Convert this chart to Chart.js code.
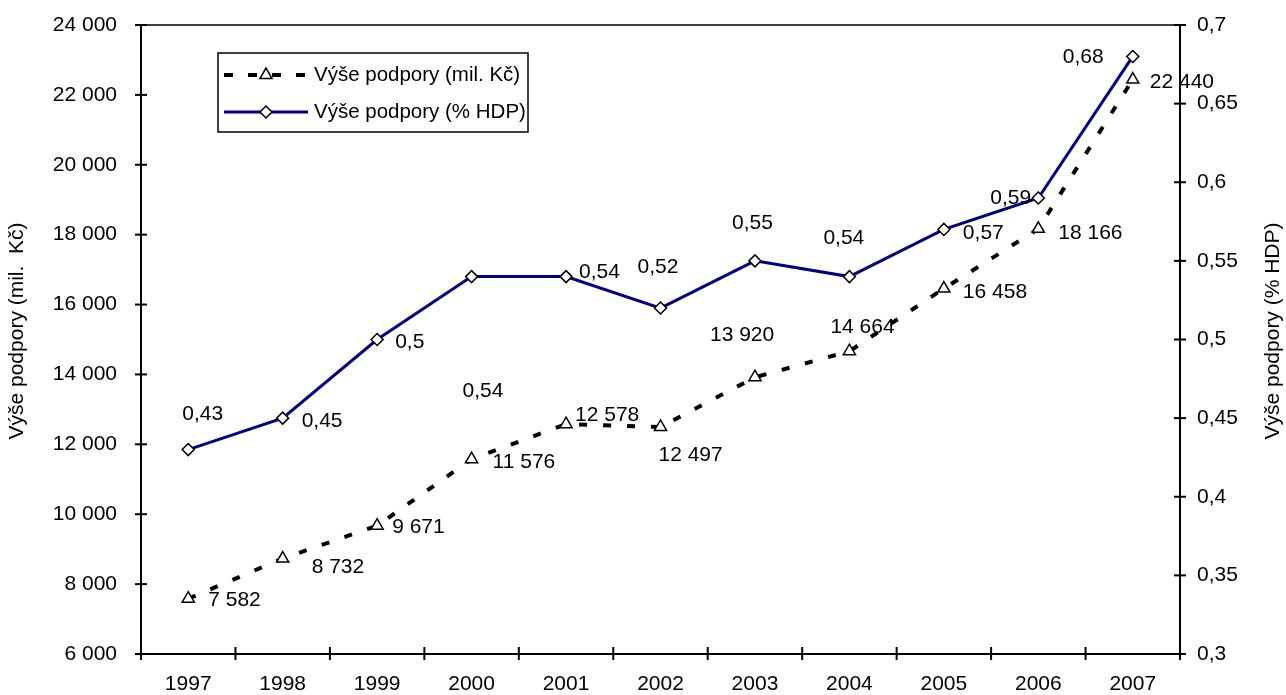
<!DOCTYPE html>
<html>
<head>
<meta charset="utf-8">
<title>Výše podpory</title>
<script src="https://cdn.jsdelivr.net/npm/chart.js@4.4.0/dist/chart.umd.min.js"></script>
<style>
  html, body { margin: 0; padding: 0; background: #fff; }
  canvas { display: block; }
</style>
</head>
<body>
<canvas id="podporaChart" width="1286" height="695"></canvas>
<script>
// data
const years = ['1997', '1998', '1999', '2000', '2001', '2002', '2003', '2004', '2005', '2006', '2007'];
const podporaKc = [7582, 8732, 9671, 11576, 12578, 12497, 13920, 14664, 16458, 18166, 22440];
const podporaHdp = [0.43, 0.45, 0.5, 0.54, 0.54, 0.52, 0.55, 0.54, 0.57, 0.59, 0.68];

const kcMin = 6000, kcMax = 24000, kcStep = 2000;
const hdpMin = 0.3, hdpMax = 0.7, hdpStep = 0.05;

const kcName = 'Výše podpory (mil. Kč)';
const hdpName = 'Výše podpory (% HDP)';
const leftTitle = 'Výše podpory (mil.  Kč)';
const rightTitle = 'Výše podpory (% HDP)';

// label placement relative to the point (text starts at dx, centred at dy)
const kcLabelOffsets = [[20, 1], [29, 9], [15, 1], [21, 3], [9, -9], [-2, 28], [-45, -42], [-19, -24], [19, 4], [20, 4], [17, 3]];
const hdpLabelOffsets = [[-6, -35], [19, 3], [18, 3], [-9, 115], [13, -4], [-23, -41], [-23, -38], [-26, -38], [19, 4], [-48, 0], [-70, 1]];

const FONT_FAMILY = '"Liberation Sans", Arial, Helvetica, sans-serif';
const FONT = '21px ' + FONT_FAMILY;
const LEGEND_FONT = '20.5px ' + FONT_FAMILY;
const NAVY = '#000080';

function fmtKc(v) {
    return String(Math.round(v)).replace(/\B(?=(\d{3})+(?!\d))/g, ' ');
}
function fmtHdp(v) {
    return String(Math.round(v * 100) / 100).replace('.', ',');
}

function line(ctx, x1, y1, x2, y2) {
    ctx.beginPath();
    ctx.moveTo(x1, y1);
    ctx.lineTo(x2, y2);
    ctx.stroke();
}

// keep the plot box where it is in the original, no overflow padding
function noPad(s) {
    s.paddingTop = 0;
    s.paddingBottom = 0;
    s.paddingLeft = 0;
    s.paddingRight = 0;
}

const decorPlugin = {
    id: 'decor',
    afterDatasetsDraw(chart) {
        const ctx = chart.ctx;
        ctx.save();
        ctx.font = FONT;
        ctx.fillStyle = '#000';
        ctx.textAlign = 'left';
        ctx.textBaseline = 'middle';
        const metaKc = chart.getDatasetMeta(0);
        const metaHdp = chart.getDatasetMeta(1);
        metaKc.data.forEach((pt, i) => {
            const o = kcLabelOffsets[i];
            ctx.fillText(fmtKc(podporaKc[i]), pt.x + o[0], pt.y + o[1]);
        });
        metaHdp.data.forEach((pt, i) => {
            const o = hdpLabelOffsets[i];
            ctx.fillText(fmtHdp(podporaHdp[i]), pt.x + o[0], pt.y + o[1]);
        });
        ctx.restore();
    },
    afterDraw(chart) {
        const ctx = chart.ctx;
        const area = chart.chartArea;
        const yL = chart.scales.y;
        const yR = chart.scales.y1;
        ctx.save();
        ctx.strokeStyle = '#000';

        // top border
        ctx.lineWidth = 1.5;
        line(ctx, area.left, area.top, area.right, area.top);

        // tick marks crossing the axes
        ctx.lineWidth = 2;
        yL.ticks.forEach((t, i) => {
            const py = yL.getPixelForTick(i);
            line(ctx, area.left - 6, py, area.left + 6, py);
        });
        yR.ticks.forEach((t, i) => {
            const py = yR.getPixelForTick(i);
            line(ctx, area.right - 6, py, area.right + 6, py);
        });
        const n = years.length;
        const w = (area.right - area.left) / n;
        for (let i = 0; i <= n; i++) {
            const px = area.left + i * w;
            line(ctx, px, area.bottom - 7, px, area.bottom + 6);
        }

        // axis titles
        ctx.font = FONT;
        ctx.fillStyle = '#000';
        ctx.textAlign = 'center';
        ctx.textBaseline = 'middle';
        ctx.save();
        ctx.translate(17, 331);
        ctx.rotate(-Math.PI / 2);
        ctx.fillText(leftTitle, 0, 0);
        ctx.restore();
        ctx.save();
        ctx.translate(1273, 331);
        ctx.rotate(-Math.PI / 2);
        ctx.fillText(rightTitle, 0, 0);
        ctx.restore();

        // legend
        ctx.lineWidth = 1.5;
        ctx.strokeRect(218, 53, 310, 79);

        ctx.lineWidth = 4;
        ctx.setLineDash([9, 15]);
        line(ctx, 224, 75, 308, 75);
        ctx.setLineDash([]);
        ctx.fillStyle = '#fff';
        ctx.lineWidth = 1.5;
        Chart.helpers.drawPoint(ctx, { pointStyle: 'triangle', radius: 7, borderWidth: 1.5 }, 266, 75);

        ctx.strokeStyle = NAVY;
        ctx.lineWidth = 3;
        line(ctx, 224, 112, 308, 112);
        ctx.strokeStyle = '#000';
        ctx.fillStyle = '#fff';
        ctx.lineWidth = 1.5;
        Chart.helpers.drawPoint(ctx, { pointStyle: 'rectRot', radius: 6, borderWidth: 1.5 }, 266, 112);

        ctx.font = LEGEND_FONT;
        ctx.fillStyle = '#000';
        ctx.textAlign = 'left';
        ctx.fillText(kcName, 314, 75);
        ctx.fillText(hdpName, 314, 112);

        ctx.restore();
    }
};

const tickFont = { family: FONT_FAMILY, size: 21 };

new Chart(document.getElementById('podporaChart'), {
    type: 'line',
    data: {
        labels: years,
        datasets: [
            {
                label: kcName,
                data: podporaKc,
                yAxisID: 'y',
                borderColor: '#000',
                borderWidth: 4,
                borderDash: [8, 16],
                borderCapStyle: 'butt',
                pointStyle: 'triangle',
                pointRadius: 7,
                pointBackgroundColor: '#fff',
                pointBorderColor: '#000',
                pointBorderWidth: 1.5,
                tension: 0,
                fill: false
            },
            {
                label: hdpName,
                data: podporaHdp,
                yAxisID: 'y1',
                borderColor: NAVY,
                borderWidth: 3,
                pointStyle: 'rectRot',
                pointRadius: 6,
                pointBackgroundColor: '#fff',
                pointBorderColor: '#000',
                pointBorderWidth: 1.5,
                tension: 0,
                fill: false
            }
        ]
    },
    options: {
        responsive: false,
        animation: false,
        devicePixelRatio: 1,
        layout: { padding: { top: 25, left: 0, right: 0, bottom: 0 } },
        plugins: {
            legend: { display: false },
            tooltip: { enabled: false }
        },
        scales: {
            x: {
                type: 'category',
                offset: true,
                grid: { display: false, drawTicks: false, tickLength: 0 },
                border: { display: true, color: '#000', width: 2 },
                ticks: { color: '#000', font: tickFont, padding: 18, maxRotation: 0, autoSkip: false },
                afterFit: s => { s.height = 41; noPad(s); }
            },
            y: {
                position: 'left',
                min: kcMin,
                max: kcMax,
                grid: { display: false, drawTicks: false, tickLength: 0 },
                border: { display: true, color: '#000', width: 2 },
                ticks: { color: '#000', font: tickFont, padding: 24, stepSize: kcStep, callback: v => fmtKc(v) },
                afterFit: s => { s.width = 141; noPad(s); }
            },
            y1: {
                position: 'right',
                min: hdpMin,
                max: hdpMax,
                grid: { display: false, drawTicks: false, tickLength: 0 },
                border: { display: true, color: '#000', width: 2 },
                ticks: { color: '#000', font: tickFont, padding: 17, stepSize: hdpStep, callback: v => fmtHdp(v) },
                afterFit: s => { s.width = 106; noPad(s); }
            }
        }
    },
    plugins: [decorPlugin]
});
</script>
</body>
</html>
